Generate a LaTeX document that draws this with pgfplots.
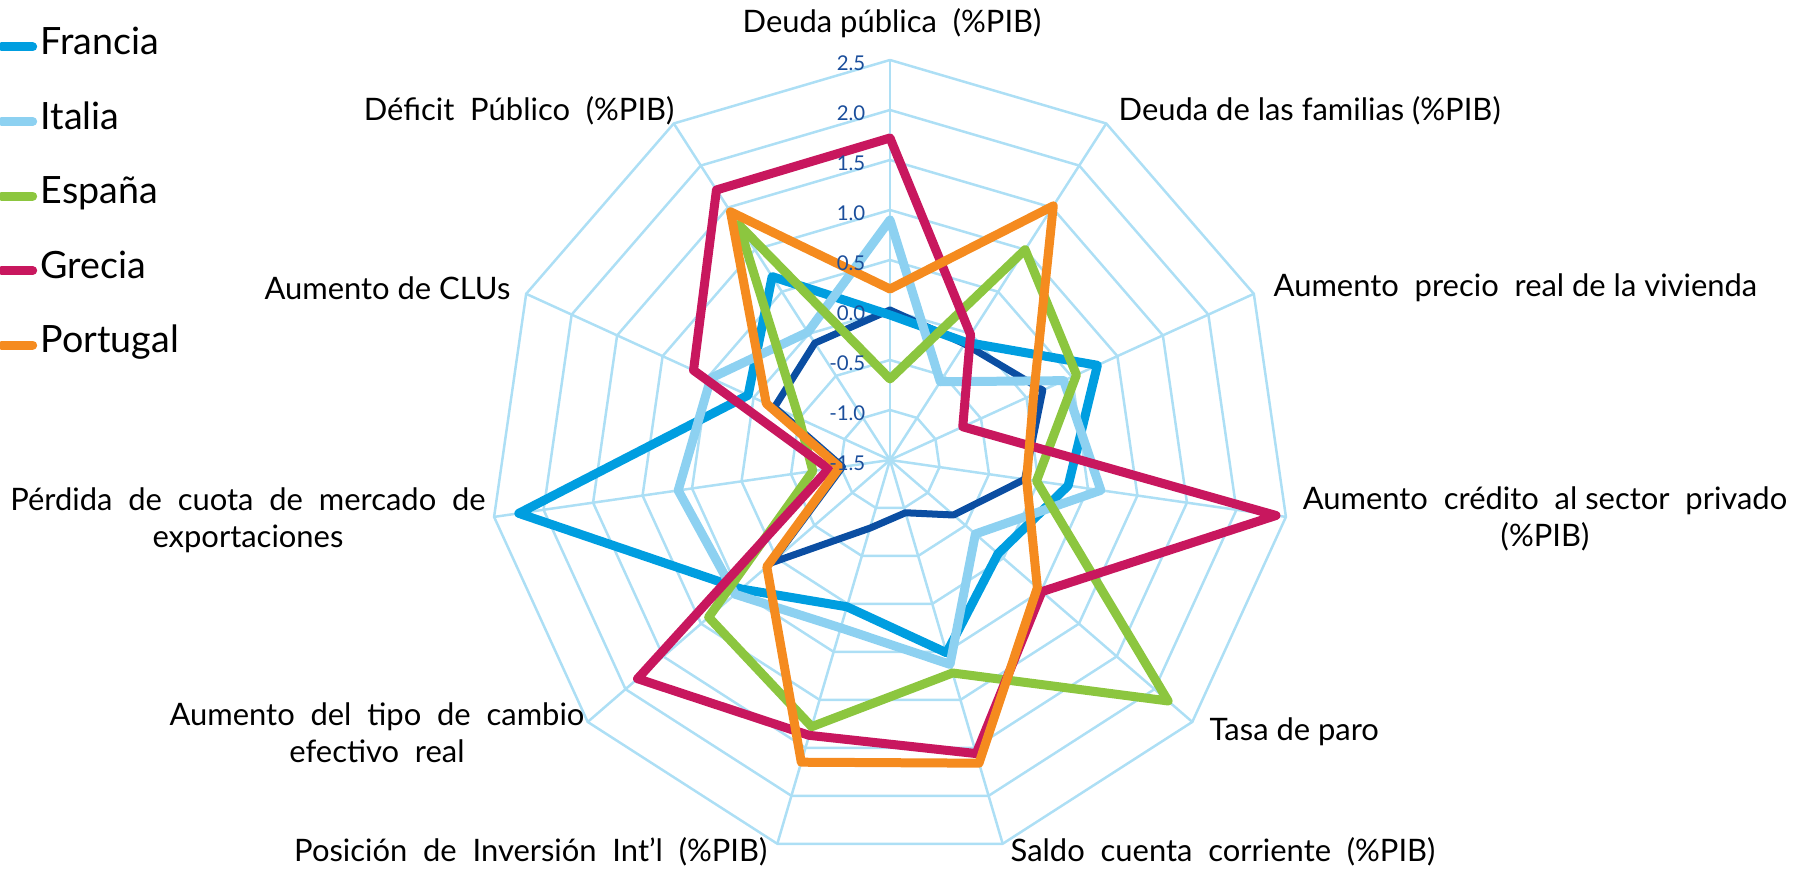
\documentclass[border=0pt]{standalone}
\usepackage{pgfplots}
\pgfplotsset{compat=1.18}
\usepackage{pgfplotstable}
\usepackage{fontspec}
\setmainfont{Lato}

\definecolor{francia}{HTML}{009EE0}
\definecolor{italia}{HTML}{8DD1F1}
\definecolor{espana}{HTML}{8CC63F}
\definecolor{grecia}{HTML}{C8175E}
\definecolor{portugal}{HTML}{F58B1F}
\definecolor{refblue}{HTML}{0B4EA2}
\definecolor{gridc}{HTML}{ADDFF5}
\definecolor{ticklab}{HTML}{1B4E9B}

% one row per axis of the radar, angle in degrees, values as read
\pgfplotstableread{
angle     fr     it     es     gr     pt     ref
90       -0.05   0.90  -0.69   1.72   0.21   0.00
57.273   -0.10  -0.57   1.00  -0.01   1.52  -0.12
24.545    0.78   0.41   0.55  -0.70   0.08   0.18
-8.182    0.30   0.63  -0.02   2.40  -0.12  -0.14
-40.909  -0.07  -0.37   2.18   0.51   0.45  -0.66
-73.636   0.51   0.63   0.72   1.56   1.66  -0.95
-106.364  0.03   0.25   1.28   1.37   1.65  -0.79
-139.091  0.47   0.55   0.90   1.84   0.13   0.07
-171.818  2.25   0.64  -0.72  -0.88  -0.99  -1.02
-204.545  0.06   0.47  -0.50   0.66  -0.14  -0.23
-237.273  0.68   0.02   1.30   1.71   1.45  -0.11
-270     -0.05   0.90  -0.69   1.72   0.21   0.00
}\radar

\begin{document}
\begin{tikzpicture}
\begin{axis}[
    name=ax,
    scale only axis,
    width=17.93cm, height=8.74cm,
    xmin=-8.90, xmax=9.03, ymin=-4.14, ymax=4.60,
    hide axis,
    clip=false,
    legend style={at={(0,1)}, anchor=north west, yshift=-2.8mm, xshift=-1pt,
        draw=none, fill=none, inner sep=0pt, row sep=3.8mm,
        font=\fontsize{10.7}{12}\selectfont,
        nodes={inner sep=1pt, text height=2.25mm, text depth=0.7mm},
        cells={anchor=west}},
    legend image code/.code={\draw[#1, line cap=round] (0cm,0cm) -- (0.31cm,0cm);},
    series/.style={line width=0.9mm, line join=round, line cap=round, data cs=polar},
]
% grid: rings every 0.5 from -1.5 (centre) to 2.5
\pgfplotsinvokeforeach{0.5,1.0,1.5,2.0,2.5,3.0,3.5,4.0}{
  \addplot[gridc, line width=0.25mm, data cs=polar, forget plot] coordinates {
    (90,#1) (57.273,#1) (24.545,#1) (-8.182,#1) (-40.909,#1) (-73.636,#1)
    (-106.364,#1) (-139.091,#1) (-171.818,#1) (-204.545,#1) (-237.273,#1) (-270,#1)};
}
\pgfplotsinvokeforeach{90,57.273,24.545,-8.182,-40.909,-73.636,-106.364,-139.091,-171.818,-204.545,-237.273}{
  \addplot[gridc, line width=0.25mm, data cs=polar, forget plot] coordinates {(#1,0) (#1,4)};
}

% radius = value + 1.5 (centre of the chart is -1.5)
\addplot[series, refblue, line width=0.7mm, forget plot] table[x=angle, y expr=\thisrow{ref}+1.5] {\radar};
\addplot[series, francia] table[x=angle, y expr=\thisrow{fr}+1.5] {\radar};
\addlegendentry{Francia}
\addplot[series, italia] table[x=angle, y expr=\thisrow{it}+1.5] {\radar};
\addlegendentry{Italia}
\addplot[series, espana] table[x=angle, y expr=\thisrow{es}+1.5] {\radar};
\addlegendentry{España}
\addplot[series, grecia] table[x=angle, y expr=\thisrow{gr}+1.5] {\radar};
\addlegendentry{Grecia}
\addplot[series, portugal] table[x=angle, y expr=\thisrow{pt}+1.5] {\radar};
\addlegendentry{Portugal}

% radial tick labels
\begin{scope}[every node/.style={anchor=east, text=ticklab, font=\fontsize{5.8}{6}\selectfont, inner sep=0pt}]
\node at (axis cs:-0.24,-0.03) {-1.5};
\node at (axis cs:-0.24,0.47) {-1.0};
\node at (axis cs:-0.24,0.97) {-0.5};
\node at (axis cs:-0.24,1.47) {0.0};
\node at (axis cs:-0.24,1.97) {0.5};
\node at (axis cs:-0.24,2.47) {1.0};
\node at (axis cs:-0.24,2.97) {1.5};
\node at (axis cs:-0.24,3.47) {2.0};
\node at (axis cs:-0.24,3.97) {2.5};
\end{scope}

% category labels
\begin{scope}[every node/.style={font=\fontsize{8.8}{10.6}\selectfont, inner sep=0pt, align=center}]
\node[anchor=center] at (axis cs:0.02,4.37) {Deuda pública \ (\%PIB)};
\node[anchor=west] at (axis cs:2.28,3.49) {Deuda de las familias (\%PIB)};
\node[anchor=west] at (axis cs:3.83,1.72) {Aumento \ precio \ real de la vivienda};
\node[anchor=center] at (axis cs:6.55,-0.59) {Aumento \ crédito \ al sector \ privado\\(\%PIB)};
\node[anchor=west] at (axis cs:3.19,-2.72) {Tasa de paro};
\node[anchor=west] at (axis cs:1.20,-3.92) {Saldo \ cuenta \ corriente \ (\%PIB)};
\node[anchor=east] at (axis cs:-1.22,-3.92) {Posición \ de \ Inversión \ Int'l \ (\%PIB)};
\node[anchor=center] at (axis cs:-5.13,-2.73) {Aumento \ del \ tipo \ de \ cambio\\efectivo \ real};
\node[anchor=center] at (axis cs:-6.42,-0.60) {Pérdida \ de \ cuota \ de \ mercado \ de\\exportaciones};
\node[anchor=east] at (axis cs:-3.79,1.72) {Aumento de CLUs};
\node[anchor=east] at (axis cs:-2.15,3.49) {Déficit \ Público \ (\%PIB)};
\end{scope}
\end{axis}
\pgfresetboundingbox
\path (ax.south west) rectangle (ax.north east);
\end{tikzpicture}
\end{document}
